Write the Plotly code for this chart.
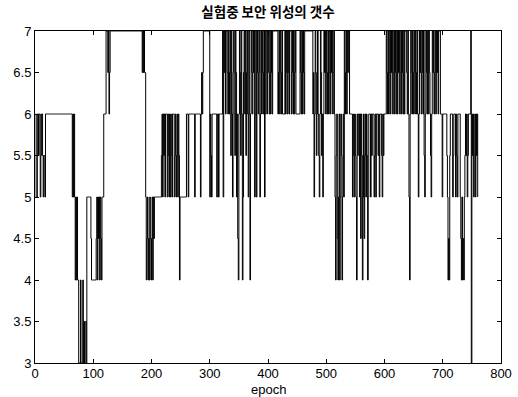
import plotly.graph_objects as go

# Number of secure satellites per epoch, listed phase by phase
phase_warmup = ([6, 5, 5, 6, 6, 5.5, 6, 6, 5, 5.5, 6, 6, 5.5, 5, 5.5, 5.5, 5]
                + [6] * 46
                + [5, 6, 5, 6, 5, 4, 5, 4, 5, 4, 4]
                + [3, 3, 3, 4, 3, 3, 3, 4, 3, 3.5, 3, 3.5, 3.5, 3]
                + [5] * 7 + [4.5] + [4] * 8
                + [4.5, 5, 4, 5, 4.5, 5, 4, 5, 4.5, 4]
                + [5] * 3 + [6] * 4)

phase_climb = ([7] * 3 + [6.5, 7, 6, 6.5] + [7] * 55
               + [6.5, 7, 6.5, 7, 6.5, 6.5]
               + [5, 4, 4.5, 5, 4, 4.5, 4, 5, 4.5, 4, 4.5, 5, 4, 5, 4.5]
               + [5] * 12
               + [5.5, 6, 5, 6, 5.5, 6, 5] + [6] * 3
               + [5, 6, 5.5, 5, 6, 5, 6, 5.5, 5] + [6] * 3
               + [5, 5.5, 6, 5, 5.5, 6, 5, 6, 5.5, 4]
               + [5] * 11)

phase_plateau = ([6] * 3 + [5] + [6] * 10 + [5] + [6] * 9 + [5, 6, 6.5, 6, 6.5]
                 + [7] * 11 + [5, 6, 5.5, 5] + [6] * 8 + [5] + [6] * 2 + [5] + [6] * 6)

phase_busy = ([7, 5, 7, 6.5, 7, 6, 7, 7, 6.5, 6, 7, 6, 6.5, 7, 5.5, 7, 6, 5, 6.5, 7,
               6, 5.5, 7, 6.5, 5, 6, 4.5, 4, 6, 7, 6.5, 5.5, 7, 6, 4, 5, 6.5, 7, 6, 7,
               5.5, 6.5, 7, 6, 5, 7, 6, 4, 6, 7, 6.5, 6, 7, 6.5, 7, 5, 6, 7, 5, 6.5,
               7, 6, 6.5, 7, 5, 6, 7, 6, 7, 6.5, 6, 7, 5, 6, 7, 6.5, 6, 7]
              + [7, 6.5, 6, 7, 6, 6.5, 7, 6] + [7] * 9
              + [6, 6.5, 7, 6, 7, 6.5, 6, 7] + [6] * 4
              + [7, 6, 6.5, 7, 6, 7, 6.5, 6] + [7] * 3
              + [6, 6.5, 7, 6, 7, 6, 6.5, 7] + [6] * 7
              + [7, 6.5, 6, 7, 6, 7, 6.5, 6] + [7] * 14
              + [6, 6.5, 5, 6, 7, 6.5, 5.5, 6, 7, 6, 5.5, 5, 6, 7, 6.5, 5.5, 6, 5, 6, 7, 6.5]
              + [7, 6, 7, 6.5, 6, 7, 6, 6.5, 7, 6, 7, 6.5, 7, 6, 6.5, 7, 6]
              + [5, 4, 5.5, 6, 4.5, 4, 5, 6, 4, 5, 6, 5.5, 4, 5, 6, 5]
              + [7, 6, 6.5, 7, 6, 7, 6.5, 7, 7])

phase_settle = ([6] * 5 + [5, 5.5, 6, 5, 6, 5.5, 5, 4, 6, 5.5] + [6] * 2
                + [5, 6, 4.5, 6, 5.5, 4, 5, 6, 4.5, 5.5, 6, 5, 6, 5.5, 4, 5] + [6] * 3
                + [5, 6, 5.5] + [6] * 3 + [5, 5.5, 6, 5] + [6] * 3
                + [5.5, 6, 5] + [6] * 3 + [5.5, 5, 6, 5.5] + [6] * 4)

phase_peak = ([7, 6.5, 6, 7, 6, 6.5, 7, 6, 7, 6.5, 7, 6, 6.5, 7, 6, 7, 6.5, 6, 7, 6,
               7, 6.5, 7, 6, 6.5, 7, 6, 7, 6.5, 6, 7, 6]
              + [7] * 3
              + [6.5, 6, 7, 6, 5, 4, 6, 7, 6.5, 6, 7, 6, 6.5, 7, 6, 7, 6.5, 6, 7, 6,
                 5, 6, 7, 6.5, 7, 6, 6.5, 7, 6, 7, 5.5, 5, 6, 7, 6.5, 6, 7, 6, 7, 6.5,
                 6, 5.5, 5, 6, 7, 6.5, 7, 6, 6.5, 7, 6, 7, 6.5, 7, 6]
              + [7] * 3)

phase_final = ([6] * 3 + [5] + [6] * 7 + [5.5, 5, 4, 4.5, 4, 5.5] + [6] * 4
               + [5, 5.5] + [6] * 3 + [5, 6, 5.5, 5] + [6] * 4
               + [5, 4.5, 4, 5, 4, 4.5, 4, 5, 5.5, 6, 5.5, 6, 5, 5.5] + [6] * 4
               + [7, 3, 6, 5.5, 6, 5, 5.5, 6, 5, 6, 5.5, 6, 5])

satellites = (phase_warmup + phase_climb + phase_plateau + phase_busy
              + phase_settle + phase_peak + phase_final)
epochs = list(range(1, len(satellites) + 1))

x_ticks = [0, 100, 200, 300, 400, 500, 600, 700, 800]
y_ticks = [3, 3.5, 4, 4.5, 5, 5.5, 6, 6.5, 7]

FONT = "Liberation Sans, Arial, sans-serif"

fig = go.Figure(
    go.Scatter(
        x=epochs,
        y=satellites,
        mode="lines",
        line=dict(color="black", width=1, shape="hv"),
        hoverinfo="skip",
    )
)

axis_style = dict(
    showline=True,
    linecolor="black",
    linewidth=1,
    mirror="ticks",
    ticks="inside",
    ticklen=4,
    tickcolor="black",
    tickwidth=1,
    showgrid=False,
    zeroline=False,
    automargin=False,
    tickfont=dict(family=FONT, size=13, color="black"),
)

fig.update_xaxes(range=[0, 800], tickvals=x_ticks, ticklabelstandoff=-2, **axis_style)
fig.update_yaxes(range=[3, 7], tickvals=y_ticks, **axis_style)

# x-axis caption placed just under the tick labels
fig.add_annotation(
    text="epoch",
    x=0.5, xref="paper",
    y=-27 / 332, yref="paper",
    xanchor="center", yanchor="middle",
    showarrow=False,
    font=dict(family=FONT, size=13, color="black"),
)

fig.update_layout(
    width=518,
    height=397,
    margin=dict(l=35, r=17, t=31, b=34),
    paper_bgcolor="white",
    plot_bgcolor="white",
    showlegend=False,
    title=dict(
        text="<b>실험중 보안 위성의 갯수</b>",
        x=0.5,
        xref="paper",
        y=1 - 12 / 397,
        yref="container",
        yanchor="middle",
        font=dict(family="Noto Sans CJK KR", size=13.5, color="black"),
    ),
)

fig.write_html("out.html")
